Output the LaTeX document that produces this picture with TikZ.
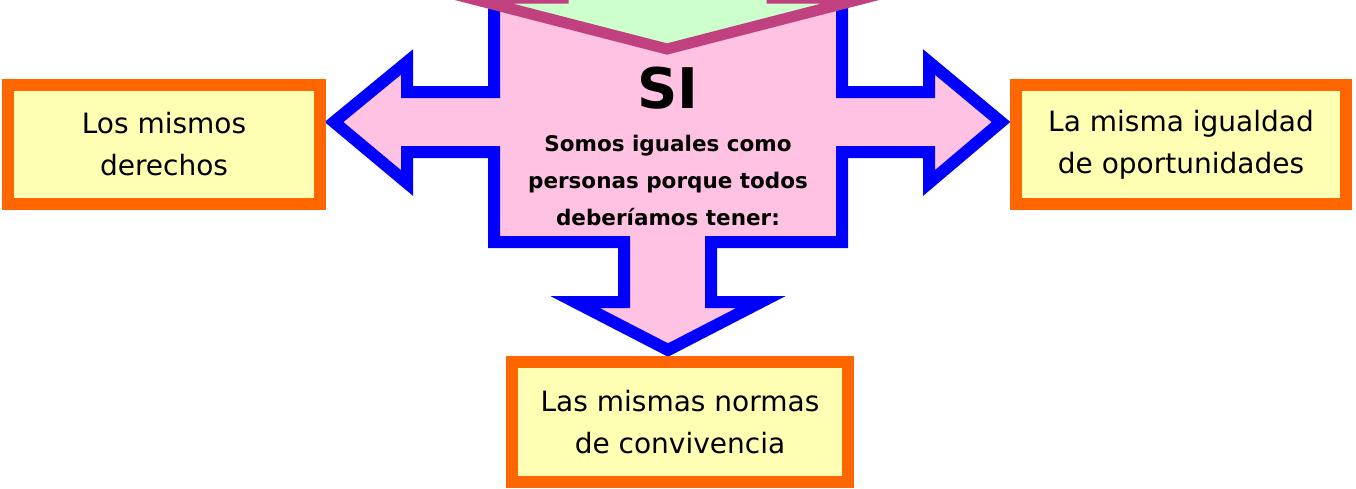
\documentclass[tikz,border=0pt]{standalone}
\usepackage{fontspec}
\setmainfont{DejaVu Sans}

\definecolor{crossblue}{RGB}{0,0,255}
\definecolor{crosspink}{RGB}{255,194,226}
\definecolor{topgreen}{RGB}{204,255,204}
\definecolor{topmagenta}{RGB}{192,64,128}
\definecolor{boxorange}{RGB}{255,102,0}
\definecolor{boxyellow}{RGB}{255,255,180}

\begin{document}
\begin{tikzpicture}[
      x=1pt, y=-1pt,
      every node/.style={align=center},
      goalbox/.style={draw=boxorange, fill=boxyellow, line width=12pt,
        inner sep=0pt, font=\fontsize{28}{42}\selectfont},
      crossarrow/.style={draw=crossblue, fill=crosspink, line width=12pt},
      toparrow/.style={draw=topmagenta, fill=topgreen, line width=11pt}
    ]

    \useasboundingbox (0,0) rectangle (1356,488);
    \clip (0,0) rectangle (1356,488);

    % Four-way arrow
    \draw[crossarrow] (494,-20) -- (494,92) -- (407,92) -- (407,62)
      -- (334,122) -- (407,183) -- (407,152) -- (494,152) -- (494,242)
      -- (624,242) -- (624,302) -- (575,302) -- (668,350) -- (761,302)
      -- (711,302) -- (711,242) -- (842,242) -- (842,152) -- (929,152)
      -- (929,183) -- (1001,122) -- (929,62) -- (929,92) -- (842,92)
      -- (842,-20) -- cycle;

    % Arrow coming from above
    \draw[toparrow] (563,-40) -- (563,-2) -- (469,-2) -- (667,49)
      -- (865,-2) -- (772,-2) -- (772,-40);

    % Centre texts
    \node[font=\bfseries\fontsize{56}{56}\selectfont] (si) at (668,88) {SI};
    \node[font=\bfseries\fontsize{21.5}{37}\selectfont] (reason) at (668,180)
      {Somos iguales como\\personas porque todos\\deberíamos tener:};

    % Outcome boxes
    \node[goalbox, minimum width=312pt, minimum height=119pt] (rights)
      at (164,144.5) {Los mismos\\derechos};
    \node[goalbox, minimum width=330pt, minimum height=119pt] (chances)
      at (1181,144.5) {La misma igualdad\\de oportunidades};
    \node[goalbox, minimum width=336pt, minimum height=120pt] (rules)
      at (680,422) {Las mismas normas\\de convivencia};

\end{tikzpicture}
\end{document}
